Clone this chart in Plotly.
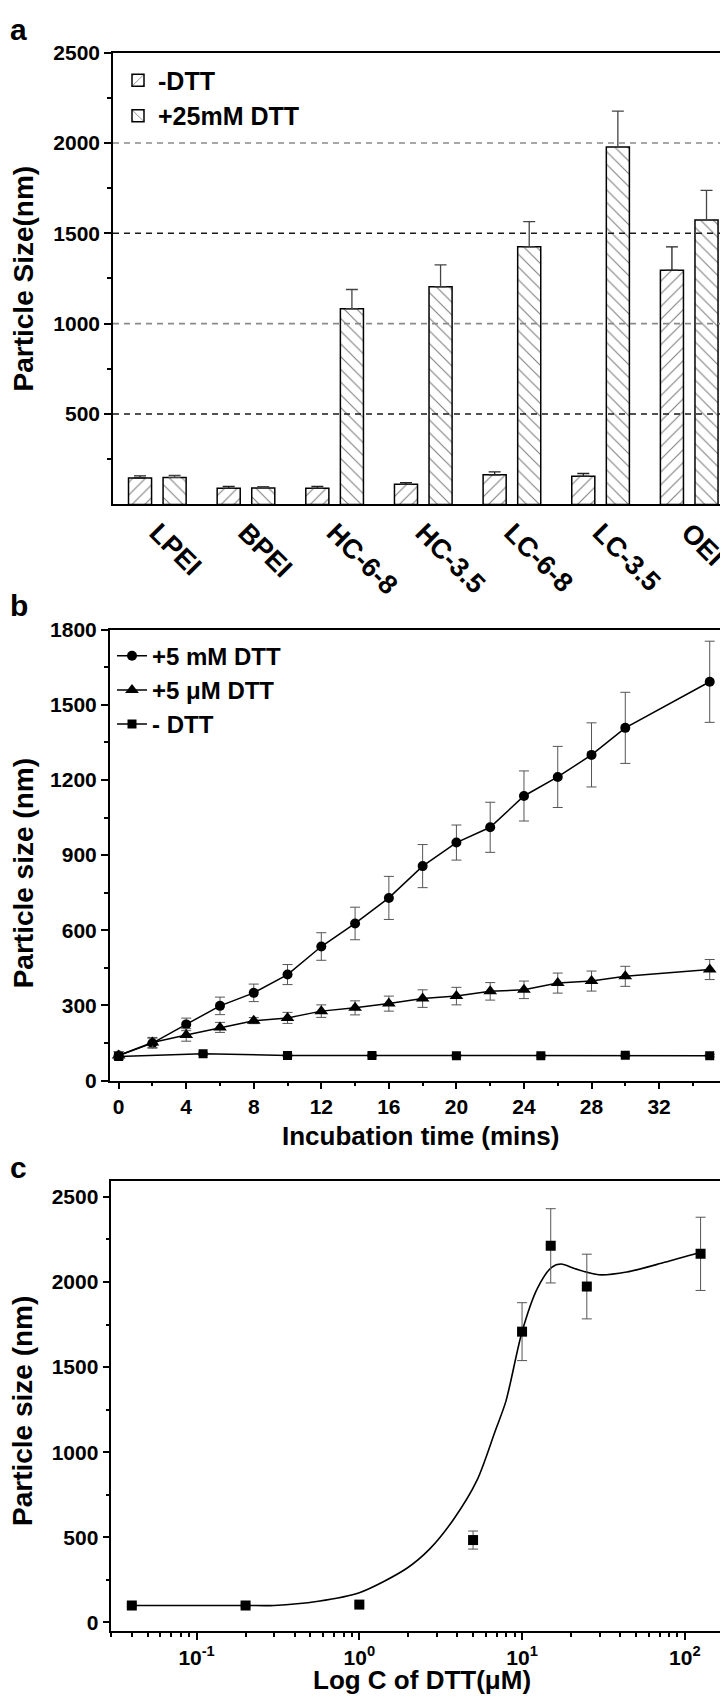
import plotly.graph_objects as go

# ---------------- Panel a data ----------------
categories = ["LPEI", "BPEI", "HC-6-8", "HC-3.5", "LC-6-8", "LC-3.5", "OEI"]
no_dtt = [146, 89, 89, 111, 164, 155, 1295]
no_dtt_err = [12, 11, 11, 9, 16, 16, 130]
dtt25 = [149, 91, 1082, 1204, 1425, 1978, 1573]
dtt25_err = [11, 7, 107, 121, 140, 198, 165]
ref_levels = [500, 1000, 1500, 2000]
ref_colors = ["#1a1a1a", "#8a8a8a", "#1a1a1a", "#8a8a8a"]

# ---------------- Panel b data ----------------
t_fast = [0, 2, 4, 6, 8, 10, 12, 14, 16, 18, 20, 22, 24, 26, 28, 30, 35]
mM5 = [100, 149, 224, 298, 350, 423, 535, 627, 729, 856, 950, 1011, 1136, 1212, 1300, 1408, 1592]
mM5_err = [15, 20, 25, 35, 35, 40, 55, 65, 86, 86, 70, 100, 100, 122, 128, 142, 162]
uM5 = [100, 152, 182, 212, 239, 250, 277, 290, 307, 327, 337, 356, 362, 389, 397, 416, 443]
uM5_err = [15, 20, 25, 20, 12, 22, 25, 28, 30, 35, 35, 35, 35, 40, 40, 40, 40]
t_ctrl = [0, 5, 10, 15, 20, 25, 30, 35]
ctrl = [96, 107, 100, 100, 99, 99, 101, 99]
ctrl_err = [6, 6, 5, 5, 5, 5, 5, 5]

# ---------------- Panel c data ----------------
conc = [0.04, 0.2, 1, 5, 10, 15, 25, 125]
size_c = [100, 100, 105, 484, 1708, 2212, 1973, 2165]
size_c_err = [8, 8, 8, 53, 170, 218, 190, 215]
fit_conc = [0.04, 0.1, 0.2, 0.3, 0.56, 1.0, 1.95, 2.71, 3.79, 5.29, 6.84, 7.96,
            10, 12.4, 15.2, 17.4, 21.2, 29.6, 44, 75, 124]
fit_size = [100, 100, 100, 100, 125, 175, 317, 432, 605, 836, 1125, 1300,
            1708, 1961, 2086, 2105, 2077, 2042, 2058, 2115, 2173]

FONT = "Liberation Sans, Arial, sans-serif"
W, H = 728, 1706


def px(x):
    return x / W


def py(y):
    return 1 - y / H


fig = go.Figure()

# ---- panel a bars ----
fig.add_trace(go.Bar(
    x=categories, y=no_dtt, name="-DTT", xaxis="x", yaxis="y", legend="legend",
    marker=dict(color="white", line=dict(color="black", width=1.5),
                pattern=dict(shape="/", fgcolor="black", bgcolor="white", size=9, solidity=0.12)),
    error_y=dict(type="data", array=no_dtt_err, arrayminus=[0] * len(no_dtt), symmetric=False,
                 color="#222", thickness=1.3, width=6),
))
fig.add_trace(go.Bar(
    x=categories, y=dtt25, name="+25mM DTT", xaxis="x", yaxis="y", legend="legend",
    marker=dict(color="white", line=dict(color="black", width=1.5),
                pattern=dict(shape="\\", fgcolor="black", bgcolor="white", size=9, solidity=0.12)),
    error_y=dict(type="data", array=dtt25_err, arrayminus=[0] * len(dtt25), symmetric=False,
                 color="#444", thickness=1.3, width=6),
))
for lv, col in zip(ref_levels, ref_colors):
    fig.add_shape(type="line", xref="x domain", yref="y", x0=0, x1=1, y0=lv, y1=lv,
                  line=dict(color=col, width=1.6, dash="6px,5px"), layer="above")

# ---- panel b ----
series_b = [
    (t_fast, mM5, mM5_err, "circle", 10, "+5 mM DTT"),
    (t_fast, uM5, uM5_err, "triangle-up", 12, "+5 \u03bcM DTT"),
    (t_ctrl, ctrl, ctrl_err, "square", 9, "- DTT"),
]
for xs, ys, es, sym, sz, nm in series_b:
    fig.add_trace(go.Scatter(
        x=xs, y=ys, name=nm, mode="lines+markers", xaxis="x2", yaxis="y2", legend="legend2",
        line=dict(color="black", width=1.5),
        marker=dict(symbol=sym, size=sz, color="black"),
        error_y=dict(type="data", array=es, color="#555", thickness=1, width=5),
    ))

# ---- panel c ----
fig.add_trace(go.Scatter(
    x=fit_conc, y=fit_size, mode="lines", xaxis="x3", yaxis="y3", showlegend=False,
    line=dict(color="black", width=1.6, shape="spline", smoothing=0.8),
))
fig.add_trace(go.Scatter(
    x=conc, y=size_c, mode="markers", xaxis="x3", yaxis="y3", showlegend=False,
    marker=dict(symbol="square", size=10, color="black"),
    error_y=dict(type="data", array=size_c_err, color="#555", thickness=1, width=5),
))

tickfont = dict(family=FONT, size=21, color="black", weight="bold")
axis_common = dict(showline=True, linecolor="black", linewidth=1.5, mirror=True,
                   showgrid=False, zeroline=False, tickfont=tickfont,
                   ticks="outside", tickcolor="black", tickwidth=1.5, ticklen=7)
minor_common = dict(ticks="outside", ticklen=4, tickcolor="black", tickwidth=1.5)

minor_c_x = [m * 10 ** e for e in range(-2, 3) for m in range(2, 10)]

fig.update_layout(
    width=W, height=H, margin=dict(l=0, r=0, t=0, b=0),
    paper_bgcolor="white", plot_bgcolor="white",
    barmode="group", bargap=0.22, bargroupgap=0.333,
    xaxis=dict(axis_common, domain=[px(105), px(722)], anchor="y", range=[-0.5, 6.46],
               type="category", ticks="", tickangle=45,
               tickfont=dict(family=FONT, size=27, color="black", weight="bold")),
    yaxis=dict(axis_common, domain=[py(491), py(33)], anchor="x", range=[0, 2500],
               tickvals=[500, 1000, 1500, 2000, 2500],
               minor=dict(minor_common, tickvals=[250, 750, 1250, 1750, 2250])),
    xaxis2=dict(axis_common, domain=[px(101.7), px(722)], anchor="y2", range=[-0.53, 36.2],
                tickvals=list(range(0, 37, 4)),
                minor=dict(minor_common, tickvals=list(range(2, 36, 4)))),
    yaxis2=dict(axis_common, domain=[py(1075), py(618)], anchor="x2", range=[0, 1800],
                tickvals=list(range(0, 1801, 300)),
                minor=dict(minor_common, tickvals=list(range(150, 1800, 300)))),
    xaxis3=dict(axis_common, domain=[px(103.3), px(724)], anchor="y3", type="log",
                range=[-1.524, 2.29],
                tickvals=[0.1, 1, 10, 100],
                ticktext=["10<sup>-1</sup>", "10<sup>0</sup>", "10<sup>1</sup>", "10<sup>2</sup>"],
                minor=dict(minor_common, tickvals=minor_c_x)),
    yaxis3=dict(axis_common, domain=[py(1633), py(1177)], anchor="x3", range=[-50, 2592],
                tickvals=list(range(0, 2501, 500)),
                minor=dict(minor_common, tickvals=list(range(250, 2500, 500)))),
    legend=dict(x=px(110), y=py(38), xanchor="left", yanchor="top",
                bgcolor="rgba(0,0,0,0)", tracegroupgap=2,
                font=dict(family=FONT, size=25, color="black", weight="bold")),
    legend2=dict(x=px(104), y=py(622), xanchor="left", yanchor="top",
                 bgcolor="rgba(0,0,0,0)",
                 font=dict(family=FONT, size=24, color="black", weight="bold")),
)

ann_font_big = dict(family=FONT, size=30, color="black", weight="bold")
for lab, yc in [("a", 10), ("b", 593), ("c", 1163)]:
    fig.add_annotation(text=lab, x=px(0), y=py(yc), xref="paper", yref="paper",
                       xanchor="left", yanchor="middle", showarrow=False, font=ann_font_big)

ytitle_font = dict(family=FONT, size=28, color="black", weight="bold")
for txt, yc in [("Particle Size(nm)", 262), ("Particle size (nm)", 865), ("Particle size (nm)", 1410)]:
    fig.add_annotation(text=txt, x=px(15), y=py(yc), xref="paper", yref="paper",
                       textangle=-90, showarrow=False, xanchor="center", yanchor="middle",
                       font=ytitle_font)

xtitle_font = dict(family=FONT, size=26, color="black", weight="bold")
fig.add_annotation(text="Incubation time (mins)", x=px(412), y=py(1131), xref="paper", yref="paper",
                   showarrow=False, xanchor="center", yanchor="middle", font=xtitle_font)
fig.add_annotation(text="Log C of DTT(\u03bcM)", x=px(414), y=py(1683), xref="paper", yref="paper",
                   showarrow=False, xanchor="center", yanchor="middle", font=xtitle_font)

fig.write_html("out.html")
